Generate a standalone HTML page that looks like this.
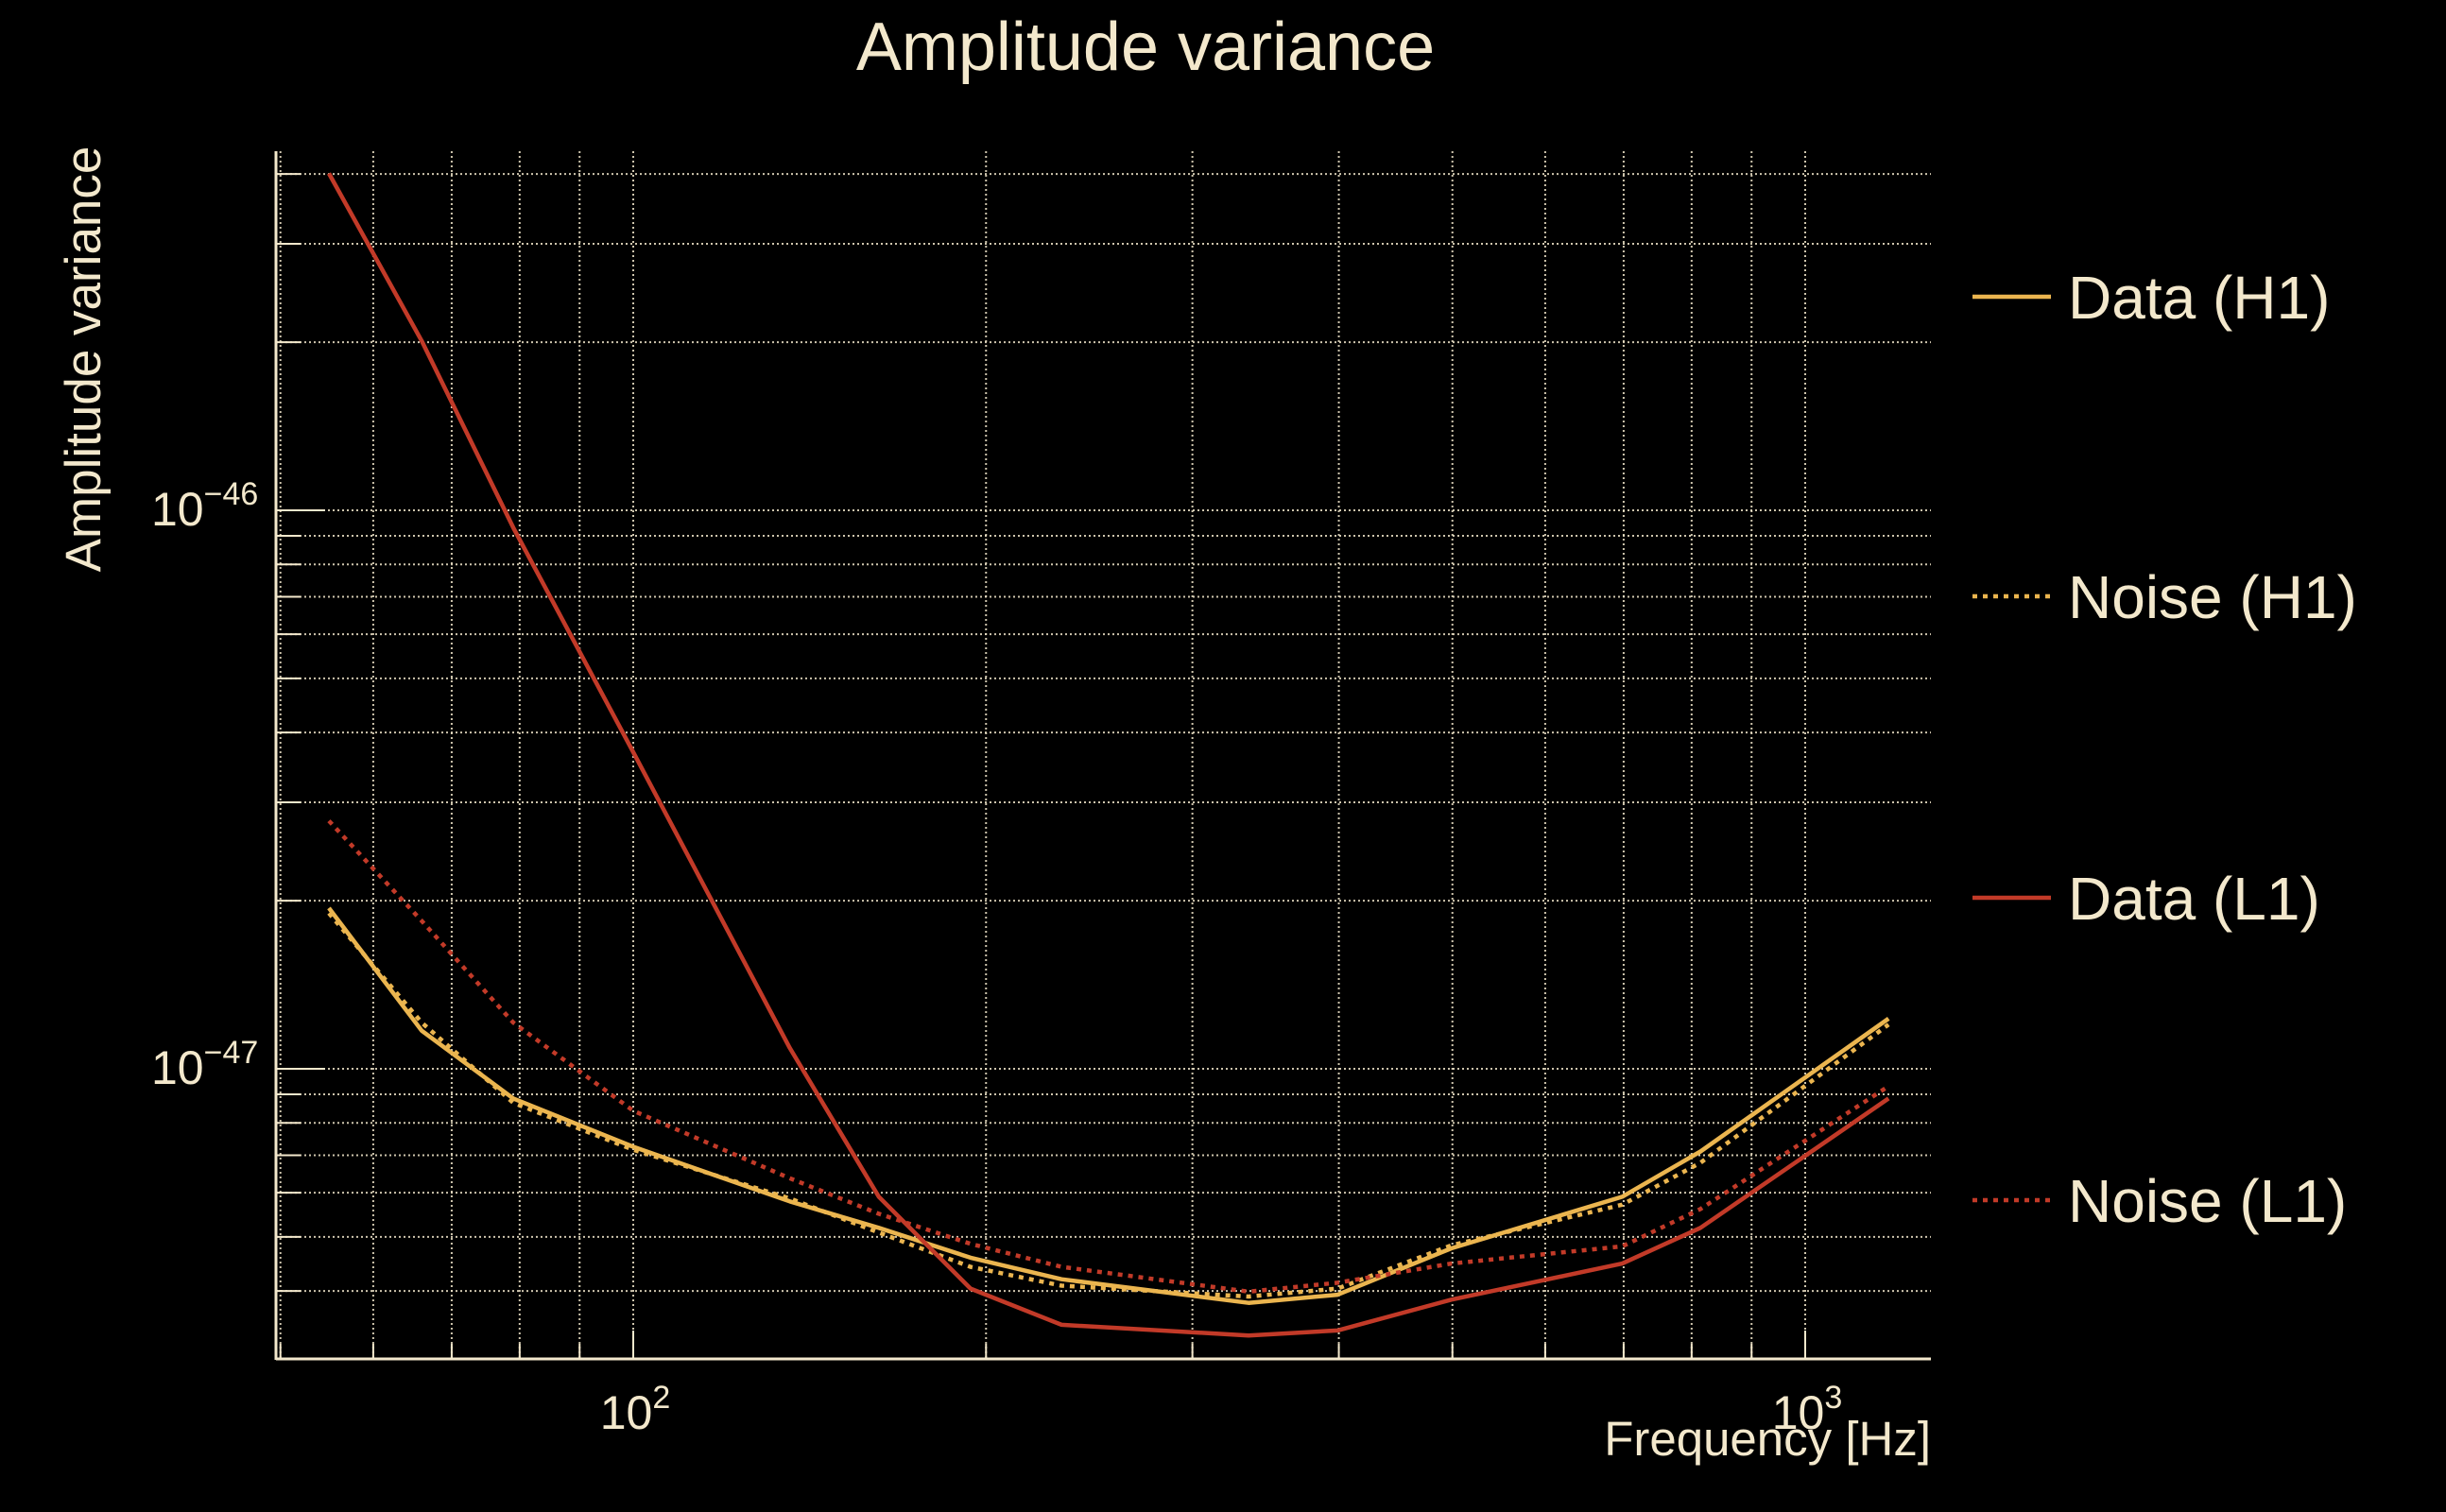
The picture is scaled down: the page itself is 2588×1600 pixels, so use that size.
<!DOCTYPE html>
<html><head><meta charset="utf-8"><style>
html,body{margin:0;padding:0;background:#000;}
svg{display:block;}
text{font-family:"Liberation Sans",sans-serif;fill:#f3e8cc;}
</style></head><body>
<svg id="chart" width="2588" height="1600" viewBox="0 0 2588 1600" xmlns="http://www.w3.org/2000/svg">
<rect width="2588" height="1600" fill="#000"/>
<g id="grid"></g>
<g id="axes"></g>
<g id="series"></g>
<text x="1212" y="74" font-size="72" text-anchor="middle">Amplitude variance</text>
<text transform="translate(106,380) rotate(-90)" font-size="53" text-anchor="middle">Amplitude variance</text>
<text x="2043" y="1540" font-size="51" text-anchor="end">Frequency [Hz]</text>
<g id="legend"></g>
</svg>
<script>
const freqs = [55, 66, 79, 100, 136, 162, 194, 232, 335, 399, 499, 698, 814, 1178];
const dataH1 = [1.94e-47, 1.17e-47, 8.85e-48, 7.25e-48, 5.79e-48, 5.19e-48, 4.59e-48, 4.20e-48, 3.81e-48, 3.94e-48, 4.77e-48, 5.90e-48, 7.11e-48, 1.23e-47];
const noiseH1 = [1.90e-47, 1.21e-47, 8.69e-48, 7.16e-48, 5.86e-48, 5.09e-48, 4.42e-48, 4.09e-48, 3.91e-48, 4.04e-48, 4.83e-48, 5.71e-48, 6.79e-48, 1.20e-47];
const dataL1 = [4.01e-46, 2.01e-46, 9.31e-47, 3.69e-47, 1.09e-47, 5.90e-48, 4.04e-48, 3.48e-48, 3.33e-48, 3.40e-48, 3.86e-48, 4.48e-48, 5.19e-48, 8.85e-48];
const noiseL1 = [2.78e-47, 1.84e-47, 1.21e-47, 8.41e-48, 6.37e-48, 5.50e-48, 4.86e-48, 4.42e-48, 3.99e-48, 4.14e-48, 4.48e-48, 4.81e-48, 5.61e-48, 9.31e-48];
const seriesNames = ["Data (H1)", "Noise (H1)", "Data (L1)", "Noise (L1)"];
const xMajorTicks = [100, 1000];
const xMajorLabels = ["2", "3"];
const yMajorTicks = [1e-46, 1e-47];
const yMajorLabels = ["\u221246", "\u221247"];

const NS = "http://www.w3.org/2000/svg";
const L = 292, R = 2043, T = 160, B = 1438;
const X100 = 670, XDEC = 1240, Y46 = 540, YDEC = 591;
function xs(f){ return X100 + (Math.log10(f) - 2) * XDEC; }
function ys(v){ return Y46 - (Math.log10(v) + 46) * YDEC; }
function mk(tag, attrs, parent){ const e = document.createElementNS(NS, tag); for (const k in attrs) e.setAttribute(k, attrs[k]); parent.appendChild(e); return e; }

const grid = document.getElementById('grid');
const axes = document.getElementById('axes');
const cream = "#f3e8cc";
for (let d = 1; d <= 3; d++) {
  for (let m = 1; m <= 9; m++) {
    const f = m * Math.pow(10, d);
    const x = xs(f);
    if (x < L + 1 || x > R) continue;
    const g = mk('line', {x1:x, x2:x, y1:T, y2:B, stroke:cream, 'stroke-width':2, 'stroke-dasharray':'2 3', opacity:0.85}, grid);
    
    
    const t = mk('line', {x1:x, x2:x, y1:B, y2:B - (m === 1 ? 30 : 16), stroke:cream, 'stroke-width':2}, axes);
    
    
  }
}
for (let d = -48; d <= -46; d++) {
  for (let m = 1; m <= 9; m++) {
    const v = m * Math.pow(10, d);
    const y = ys(v);
    if (y < T || y > B) continue;
    const g = mk('line', {x1:L, x2:R, y1:y, y2:y, stroke:cream, 'stroke-width':2, 'stroke-dasharray':'2 3', opacity:0.85}, grid);
    
    
    const t = mk('line', {x1:L, x2:L + (m === 1 ? 52 : 26), y1:y, y2:y, stroke:cream, 'stroke-width':2}, axes);
    
    
  }
}
const ax1 = mk('line', {x1:L, x2:L, y1:T, y2:B + 1, stroke:cream, 'stroke-width':3}, axes);


const ax2 = mk('line', {x1:L, x2:R, y1:B, y2:B, stroke:cream, 'stroke-width':3}, axes);



xMajorTicks.forEach((f, i) => {
  const t = mk('text', {x:xs(f) + 2, y:1512, 'font-size':50, 'text-anchor':'middle'}, axes);
  
  
  t.textContent = "10";
  const s = mk('tspan', {dy:-22, 'font-size':34}, t);
  s.textContent = xMajorLabels[i];
});
yMajorTicks.forEach((v, i) => {
  const t = mk('text', {x:160, y:ys(v) + 16, 'font-size':50}, axes);
  
  
  t.textContent = "10";
  const s = mk('tspan', {dy:-22, 'font-size':34}, t);
  s.textContent = yMajorLabels[i];
});

const yellow = "#ebb54f", red = "#c23a28";
const specs = [
  {vals:dataH1, color:yellow, dash:null, name:'series-data-h1'},
  {vals:noiseH1, color:yellow, dash:'5 6', name:'series-noise-h1'},
  {vals:dataL1, color:red, dash:null, name:'series-data-l1'},
  {vals:noiseL1, color:red, dash:'5 6', name:'series-noise-l1'}
];
const sg = document.getElementById('series');
specs.forEach(sp => {
  const d = sp.vals.map((v, i) => (i ? 'L' : 'M') + xs(freqs[i]).toFixed(1) + ',' + ys(v).toFixed(1)).join(' ');
  const attrs = {d:d, fill:'none', stroke:sp.color, 'stroke-width':4.5, 'stroke-linejoin':'round'};
  if (sp.dash) attrs['stroke-dasharray'] = sp.dash;
  const p = mk('path', attrs, sg);
  
  
});

const lg = document.getElementById('legend');
const legY = [314, 631, 950, 1270];
specs.forEach((sp, i) => {
  const attrs = {x1:2087, x2:2170, y1:legY[i], y2:legY[i], stroke:sp.color, 'stroke-width':4.5};
  if (sp.dash) attrs['stroke-dasharray'] = '5 6';
  const l = mk('line', attrs, lg);
  
  
  const t = mk('text', {x:2188, y:legY[i] + 23, 'font-size':64}, lg);
  
  
  t.textContent = seriesNames[i];
});
</script>
</body></html>
